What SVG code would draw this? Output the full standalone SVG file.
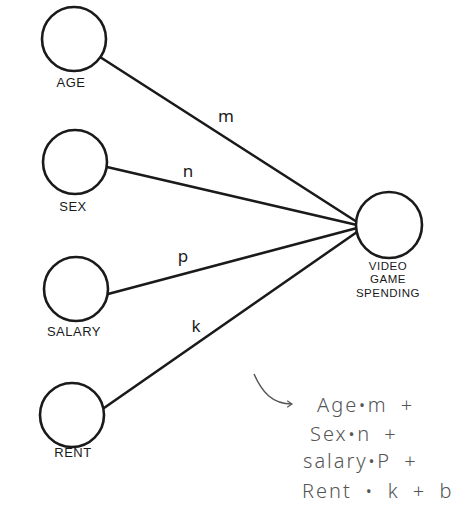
<svg xmlns="http://www.w3.org/2000/svg" width="474" height="507" viewBox="0 0 474 507">
<style>
.node circle{fill:#fff;stroke:#1a1a1a;stroke-width:2.6}
.lbl{font-family:"Liberation Sans",Arial,sans-serif;font-size:13px;fill:#1a1a1a;text-anchor:middle;letter-spacing:0.5px}
.sm{font-size:11.5px}
.edge{stroke:#1a1a1a;stroke-width:2.6;fill:none;stroke-linecap:round}
.w{font-family:"Noto Sans",sans-serif;font-size:17px;fill:#1a1a1a;text-anchor:middle}
.eq{font-family:"Noto Sans",sans-serif;font-weight:300;font-size:20px;fill:#555;letter-spacing:2px;word-spacing:6px}
</style>
<defs>
<marker id="ah" viewBox="0 0 10 10" refX="8" refY="5" markerWidth="8" markerHeight="8" orient="auto" markerUnits="userSpaceOnUse">
<path d="M2,1 L8,5 L2,9" fill="none" stroke="#555" stroke-width="1.4"/>
</marker>
</defs>
<rect width="474" height="507" fill="#fff"/>
<g id="connectors">
<line class="edge" x1="100" y1="57" x2="357" y2="222"/>
<line class="edge" x1="107" y1="167" x2="357" y2="225"/>
<line class="edge" x1="108" y1="294" x2="357" y2="228"/>
<line class="edge" x1="104" y1="408" x2="357" y2="232"/>
<text class="w" x="226" y="122">m</text>
<text class="w" x="188" y="177">n</text>
<text class="w" x="183" y="262">p</text>
<text class="w" x="196" y="332">k</text>
</g>
<g id="age" class="node"><circle cx="74" cy="39" r="32"/><text class="lbl" x="71" y="87">AGE</text></g>
<g id="sex" class="node"><circle cx="75" cy="162" r="32"/><text class="lbl" x="73" y="211">SEX</text></g>
<g id="salary" class="node"><circle cx="76" cy="289" r="32"/><text class="lbl" x="74" y="336">SALARY</text></g>
<g id="rent" class="node"><circle cx="72" cy="415" r="32"/><text class="lbl" x="73" y="457">RENT</text></g>
<g id="video" class="node"><circle cx="389" cy="225" r="33"/>
<text class="lbl sm" x="388" y="270">VIDEO</text>
<text class="lbl sm" x="388" y="283">GAME</text>
<text class="lbl sm" x="388" y="297">SPENDING</text></g>
<g id="formula">
<path d="M254,374 C262,392 272,404 292,404" fill="none" stroke="#555" stroke-width="1.5" marker-end="url(#ah)"/>
<text class="eq" x="317" y="412">Age•m +</text>
<text class="eq" x="310" y="441">Sex•n +</text>
<text class="eq" x="303" y="468">salary•P +</text>
<text class="eq" x="302" y="498">Rent • k + b</text>
</g>
</svg>
